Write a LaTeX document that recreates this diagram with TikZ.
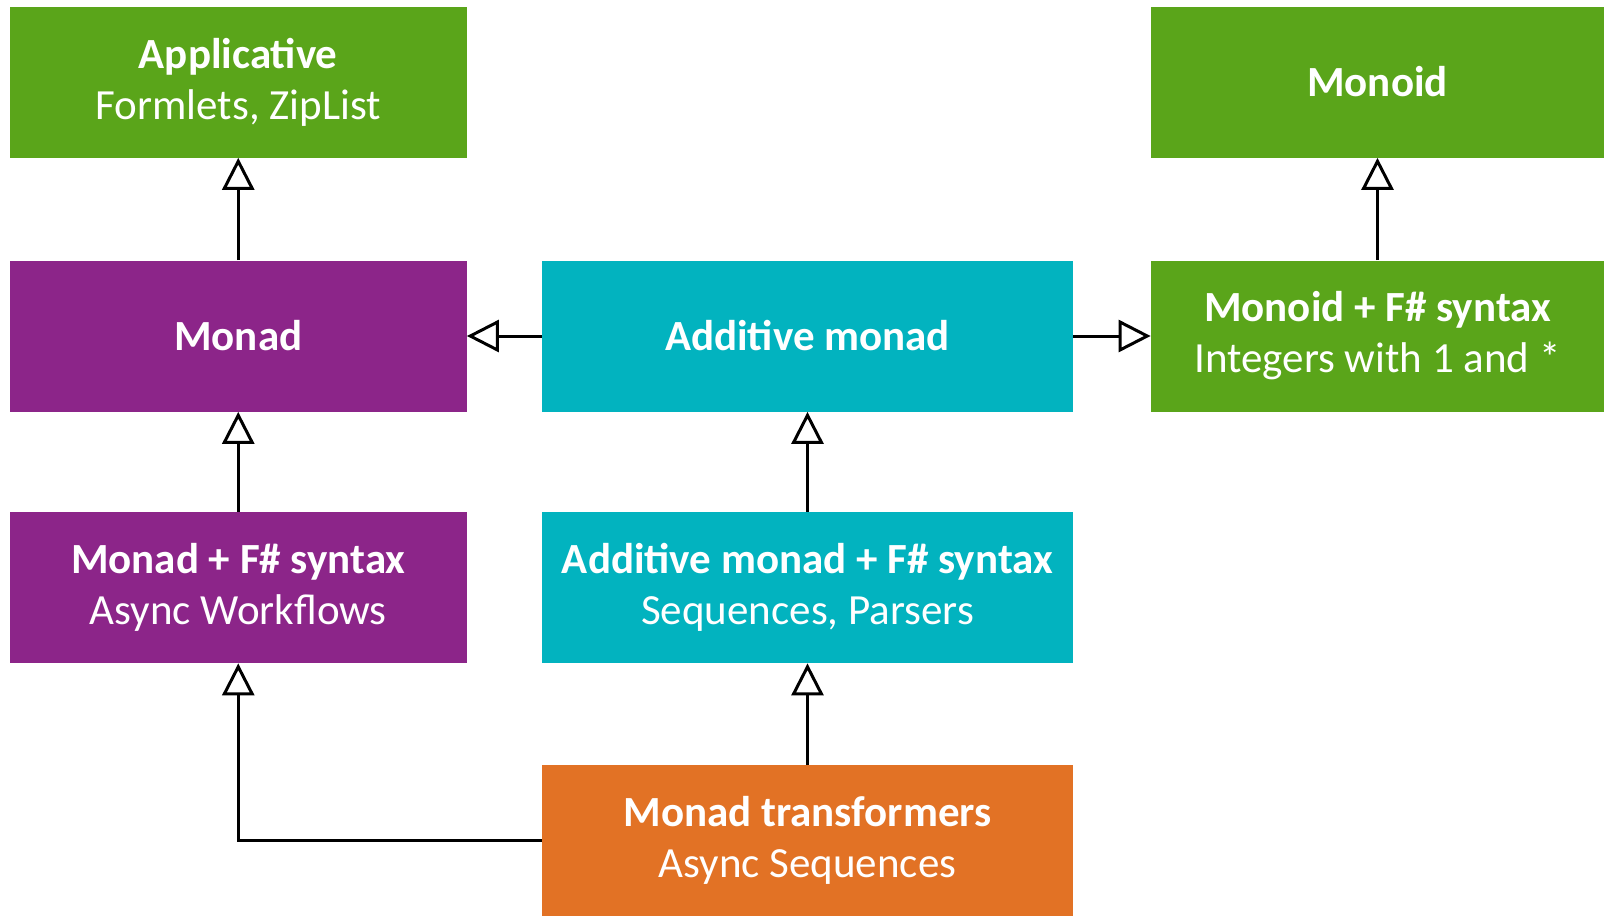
\documentclass[tikz,border=0pt]{standalone}
\usepackage{fontspec}
\setmainfont{Carlito}
\usetikzlibrary{arrows.meta}
\definecolor{cgreen}{RGB}{90,165,26}
\definecolor{cpurple}{RGB}{140,37,137}
\definecolor{cteal}{RGB}{2,179,191}
\definecolor{corange}{RGB}{226,114,37}
\tikzset{
  box/.style={rectangle, inner sep=0pt, minimum height=75.5pt, text=white, align=center,
    font=\fontsize{21.5}{25.5}\selectfont},
  wideA/.style={minimum width=228.25pt},
  wideB/.style={minimum width=265.5pt},
  wideC/.style={minimum width=226.5pt},
  inherit/.style={draw=black, line width=1.5pt, -{Triangle[fill=white,length=16pt,width=16pt,line width=1.5pt]}},
}
\begin{document}
\begin{tikzpicture}[x=0.5pt,y=-0.5pt]
\useasboundingbox (0,0) rectangle (1604,916);
\node[box,wideA,fill=cgreen] (app) at (238.25,82) {\textbf{Applicative}\\Formlets, ZipList};
\node[box,wideC,fill=cgreen] (monoid) at (1377.5,82) {\textbf{Monoid}};
\node[box,wideA,fill=cpurple] (monad) at (238.25,336) {\textbf{Monad}};
\node[box,wideB,fill=cteal] (add) at (807.5,336) {\textbf{Additive monad}};
\node[box,wideC,fill=cgreen] (monoidf) at (1377.5,336) {\textbf{Monoid + F\# syntax}\\Integers with 1 and *};
\node[box,wideA,fill=cpurple] (monadf) at (238.25,587.5) {\textbf{Monad + F\# syntax}\\Async Workflows};
\node[box,wideB,fill=cteal] (addf) at (807.5,587.5) {\textbf{Additive monad + F\# syntax}\\Sequences, Parsers};
\node[box,wideB,fill=corange] (trans) at (807.5,840.5) {\textbf{Monad transformers}\\Async Sequences};
\draw[inherit] (monad.north) -- (app.south);
\draw[inherit] (monoidf.north) -- (monoid.south);
\draw[inherit] (add.west) -- (monad.east);
\draw[inherit] (add.east) -- (monoidf.west);
\draw[inherit] (monadf.north) -- (monad.south);
\draw[inherit] (addf.north) -- (add.south);
\draw[inherit] (trans.north) -- (addf.south);
\draw[inherit] (trans.west) -| (monadf.south);
\end{tikzpicture}
\end{document}
